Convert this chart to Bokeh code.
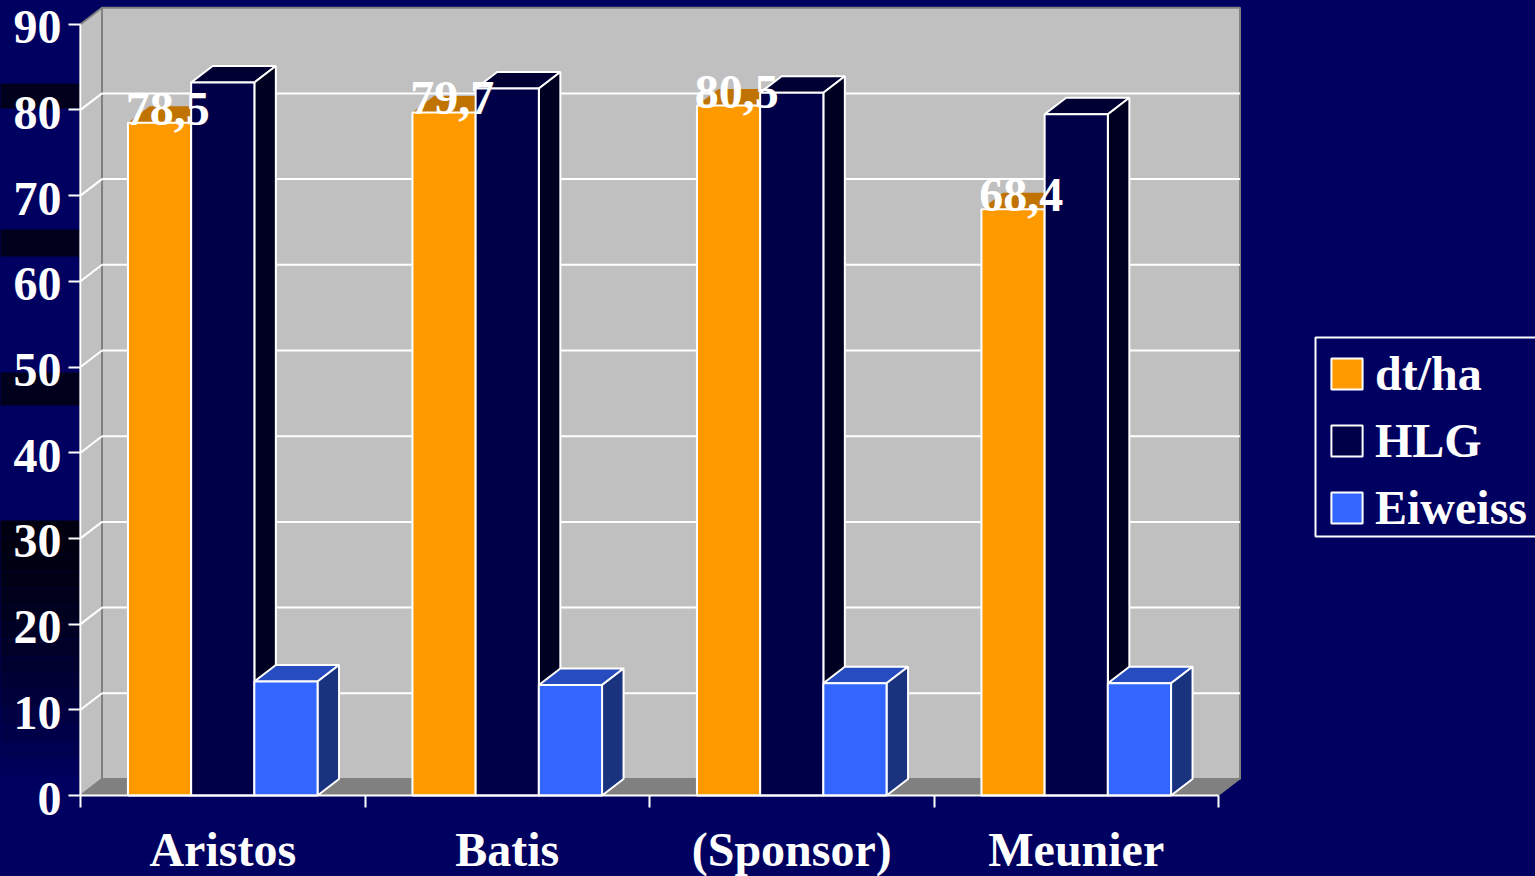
from bokeh.plotting import figure
from bokeh.embed import file_html
from bokeh.resources import INLINE
from bokeh.core.properties import value
from bokeh.models import (ColumnDataSource, FixedTicker, LinearAxis, Legend, LegendItem,
                          BoxAnnotation, Range1d)

categories = ["Aristos", "Batis", "(Sponsor)", "Meunier"]
series_names = ["dt/ha", "HLG", "Eiweiss"]
dt_ha = [78.5, 79.7, 80.5, 68.4]
hlg = [83.2, 82.5, 82.0, 79.5]
eiweiss = [13.3, 12.9, 13.1, 13.1]
dt_ha_labels = ["78,5", "79,7", "80,5", "68,4"]
y_ticks = [0, 10, 20, 30, 40, 50, 60, 70, 80, 90]

NAVY = "#000060"
FONT = "Liberation Serif"
FS = "48px"
front = ["#FF9900", "#000048", "#3366FF"]
top_c = ["#C07300", "#000032", "#264CBF"]
side_c = ["#7F4C00", "#000020", "#19337F"]
top_line = [None, "white", "white"]

PX_X = 284.5          # pixels per category
PX_Y = 8.57           # pixels per value unit
DX = 21.5 / PX_X      # depth of the chart, in x units
DY = 16.5 / PX_Y      # depth of the chart, in y units
BAR = 63.2 / PX_X
N = len(categories)

W, H = 1535, 876
ML, MB = 80, 81       # the axes cross this far from the left and bottom edges
x0, x1 = -ML / PX_X, (W - ML) / PX_X
y0, y1 = -MB / PX_Y, (H - MB) / PX_Y
p = figure(width=W, height=H, output_backend="svg", toolbar_location=None,
           x_axis_type=None, y_axis_type=None, min_border=0,
           x_range=Range1d(x0, x1), y_range=Range1d(y0, y1))
p.extra_y_ranges["labels"] = Range1d(y0 + 3 / PX_Y, y1 + 3 / PX_Y)
p.outline_line_color = None
p.border_fill_color = NAVY
p.background_fill_color = NAVY
p.xgrid.visible = False
p.ygrid.visible = False

# dark streaks of the slide background, left of the chart
band_l, band_r = x0 - 5 / PX_X, -1 / PX_X
for t, b in [(83, 108), (229, 256), (372, 405)]:
    p.quad(left=band_l, right=band_r, top=(H - MB - t) / PX_Y, bottom=(H - MB - b) / PX_Y,
           fill_color="#00001C", line_color=None)
STEPS = 16
for i in range(STEPS):
    t = 520 + i * 17
    lvl = 0x10 + int((0x60 - 0x10) * (i / (STEPS - 1)) ** 1.5)
    p.quad(left=band_l, right=band_r, top=(H - MB - t) / PX_Y, bottom=(H - MB - t - 17) / PX_Y,
           fill_color="#0000%02X" % lvl, line_color=None)

# walls and floor
ymax, xmax = y_ticks[-1], float(N)
p.patch([DX, xmax + DX, xmax + DX, DX], [DY, DY, ymax + DY, ymax + DY],
        fill_color="#C0C0C0", line_color="#808080", line_width=2)
p.patch([0, DX, DX, 0], [0, DY, ymax + DY, ymax],
        fill_color="#C0C0C0", line_color="#808080", line_width=2)
p.patch([0, xmax, xmax + DX, DX], [0, 0, DY, DY],
        fill_color="#808080", line_color="#808080", line_width=1)
gy = [t for t in y_ticks[1:-1]]
p.segment(x0=[DX] * len(gy), x1=[xmax + DX] * len(gy), y0=[t + DY for t in gy], y1=[t + DY for t in gy],
          line_color="white", line_width=2)
p.segment(x0=[0] * len(gy), x1=[DX] * len(gy), y0=gy, y1=[t + DY for t in gy],
          line_color="white", line_width=2)

# bars
legend_items = []
for s, vals in enumerate([dt_ha, hlg, eiweiss]):
    xc = [i + 0.5 + (s - 1) * BAR for i in range(N)]
    p.patches([[x - BAR / 2, x + BAR / 2, x + BAR / 2 + DX, x - BAR / 2 + DX] for x in xc],
              [[v, v, v + DY, v + DY] for v in vals],
              fill_color=top_c[s], line_color=top_line[s], line_width=2)
    p.patches([[x + BAR / 2, x + BAR / 2 + DX, x + BAR / 2 + DX, x + BAR / 2] for x in xc],
              [[0, DY, v + DY, v] for v in vals],
              fill_color=side_c[s], line_color="white", line_width=2)
    r = p.vbar(x=xc, top=vals, bottom=0, width=BAR,
               fill_color=front[s], line_color="white", line_width=2)
    legend_items.append(LegendItem(label=series_names[s], renderers=[r]))

# value labels of the first series
lab = ColumnDataSource(dict(x=[i + 0.5 - BAR + DX / 2 - 2.5 / PX_X for i in range(N)], y=dt_ha, t=dt_ha_labels))
p.text(x="x", y="y", text="t", source=lab, text_color="white", text_font=value(FONT),
       text_font_style="bold", text_font_size=FS, text_align="center",
       text_baseline="alphabetic", y_offset=-14)

# value axis: line and ticks on one axis, labels (3px lower, as in the reference) on another
yax = LinearAxis(ticker=FixedTicker(ticks=y_ticks), bounds=(0, ymax), fixed_location=0)
yax.major_label_overrides = {t: "" for t in y_ticks}
yax.axis_line_color = "white"
yax.axis_line_width = 2
yax.major_tick_line_color = "white"
yax.major_tick_line_width = 2
yax.major_tick_out = 12
yax.major_tick_in = 0
yax.minor_tick_line_color = None
p.add_layout(yax, "left")

ylab = LinearAxis(ticker=FixedTicker(ticks=y_ticks), y_range_name="labels", fixed_location=0)
ylab.axis_line_color = None
ylab.major_tick_line_color = None
ylab.minor_tick_line_color = None
ylab.major_tick_out = 0
ylab.major_tick_in = 0
ylab.major_label_standoff = 19
ylab.major_label_text_color = "white"
ylab.major_label_text_font = FONT
ylab.major_label_text_font_style = "bold"
ylab.major_label_text_font_size = FS
p.add_layout(ylab, "left")

centers = [i + 0.5 for i in range(N)]
xax = LinearAxis(ticker=FixedTicker(ticks=centers, minor_ticks=list(range(N + 1))), bounds=(0, N),
                 fixed_location=0)
xax.major_label_overrides = {c: n for c, n in zip(centers, categories)}
xax.axis_line_color = "white"
xax.axis_line_width = 2
xax.major_tick_line_color = None
xax.major_tick_out = 0
xax.major_tick_in = 0
xax.minor_tick_line_color = "white"
xax.minor_tick_line_width = 2
xax.minor_tick_out = 12
xax.minor_tick_in = 0
xax.major_label_standoff = 15
xax.major_label_text_color = "white"
xax.major_label_text_font = FONT
xax.major_label_text_font_style = "bold"
xax.major_label_text_font_size = FS
p.add_layout(xax, "below")

# legend frame (runs off the right edge of the page) and legend
p.add_layout(BoxAnnotation(left=1315, right=1545, top=337, bottom=536, left_units="canvas",
                           right_units="canvas", top_units="canvas", bottom_units="canvas",
                           fill_color=NAVY, fill_alpha=1, line_color="white", line_alpha=1, line_width=2))
legend = Legend(items=legend_items, location=(1327, H - 535), orientation="vertical")
legend.background_fill_alpha = 0
legend.border_line_color = None
legend.label_text_color = "white"
legend.label_text_font = FONT
legend.label_text_font_style = "bold"
legend.label_text_font_size = FS
legend.glyph_width = 39
legend.glyph_height = 39
legend.label_standoff = 9
legend.padding = 0
legend.spacing = 12
legend.margin = 0
p.add_layout(legend, "center")

html = file_html(p, INLINE).replace("<body>", '<body style="background:%s">' % NAVY)
open("out.html", "w").write(html)
